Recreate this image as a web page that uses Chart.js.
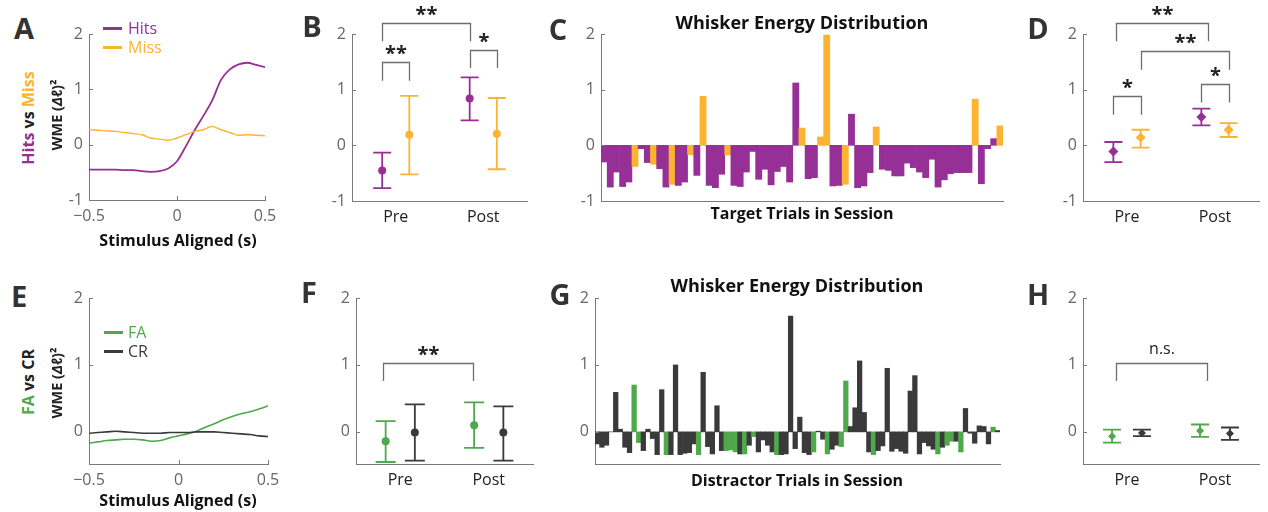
<!DOCTYPE html>
<html>
<head>
<meta charset="utf-8">
<script src="https://cdn.jsdelivr.net/npm/chart.js@4.4.1/dist/chart.umd.min.js"></script>
<style>
  body { margin: 0; background: #fff; width: 1268px; height: 512px; position: relative; overflow: hidden; font-family: "Open Sans", Lato, sans-serif; }
  canvas { position: absolute; }
  .txt { position: absolute; white-space: nowrap; line-height: 1; z-index: 2; color: #222; }
  .key { position: absolute; height: 0; z-index: 2; }
</style>
</head>
<body>
<script>
// ---- data ----
const timeAxis = [-0.5, -0.45, -0.4, -0.35, -0.3, -0.25, -0.2, -0.15, -0.1, -0.05, 0,
                  0.05, 0.1, 0.15, 0.2, 0.25, 0.3, 0.35, 0.4, 0.45, 0.5];
const hitsTrace = [-0.45, -0.45, -0.45, -0.45, -0.46, -0.46, -0.48, -0.49, -0.48, -0.43, -0.30,
                   -0.03, 0.26, 0.52, 0.80, 1.17, 1.36, 1.45, 1.48, 1.44, 1.40];
const missTrace = [0.27, 0.26, 0.25, 0.24, 0.22, 0.20, 0.18, 0.12, 0.10, 0.08, 0.12,
                   0.18, 0.24, 0.27, 0.33, 0.27, 0.22, 0.17, 0.18, 0.17, 0.16];
const faTrace = [-0.17, -0.15, -0.13, -0.12, -0.11, -0.11, -0.12, -0.14, -0.13, -0.09, -0.06,
                 -0.03, 0.01, 0.07, 0.12, 0.18, 0.23, 0.27, 0.30, 0.34, 0.39];
const crTrace = [-0.02, -0.01, 0.00, 0.01, 0.00, -0.01, -0.02, -0.02, -0.02, -0.01, -0.01,
                 -0.01, 0.00, 0.00, 0.00, -0.01, -0.02, -0.03, -0.04, -0.06, -0.07];

const phases = ["Pre", "Post"];
// B: hits / miss, mean with error range
const hitsWme = [-0.45, 0.84], hitsWmeLo = [-0.77, 0.45], hitsWmeHi = [-0.13, 1.22];
const missWme = [0.19, 0.21], missWmeLo = [-0.52, -0.43], missWmeHi = [0.89, 0.85];
// D
const hitsAvg = [-0.11, 0.51], hitsAvgLo = [-0.30, 0.36], hitsAvgHi = [0.06, 0.66];
const missAvg = [0.14, 0.28], missAvgLo = [-0.04, 0.15], missAvgHi = [0.28, 0.40];
// F: FA / CR
const faWme = [-0.14, 0.10], faWmeLo = [-0.45, -0.24], faWmeHi = [0.16, 0.44];
const crWme = [-0.01, -0.01], crWmeLo = [-0.43, -0.43], crWmeHi = [0.41, 0.38];
// H
const faAvg = [-0.065, 0.015], faAvgLo = [-0.16, -0.075], faAvgHi = [0.035, 0.11];
const crAvg = [-0.015, -0.025], crAvgLo = [-0.065, -0.12], crAvgHi = [0.035, 0.065];

// per-trial whisker energy, target trials (1 = hit, 0 = miss)
const targetWme = [
  -0.30, -0.75, -0.48, -0.74, -0.66, -0.38, -0.06, -0.31, -0.34, -0.42,
  -0.75, -0.70, -0.72, -0.66, -0.17, -0.54, 0.88, -0.72, -0.76, -0.52,
  -0.17, -0.72, -0.74, -0.48, -0.11, -0.61, -0.43, -0.71, -0.47, -0.38,
  -0.66, 1.12, 0.31, -0.60, -0.58, 0.15, 1.98, -0.73, -0.72, -0.70,
  0.56, -0.76, -0.73, -0.49, 0.33, -0.43, -0.45, -0.55, -0.55, -0.32,
  -0.40, -0.48, -0.58, -0.25, -0.75, -0.62, -0.51, -0.49, -0.49, -0.49,
  0.83, -0.69, -0.06, 0.12, 0.35];
const targetIsHit = [
  1, 1, 1, 1, 1, 0, 1, 1, 0, 1,
  1, 0, 1, 1, 0, 1, 0, 1, 1, 1,
  0, 1, 1, 1, 1, 1, 1, 1, 1, 1,
  1, 1, 0, 1, 1, 0, 0, 1, 1, 0,
  1, 1, 1, 1, 0, 1, 1, 1, 1, 1,
  1, 1, 1, 1, 1, 1, 1, 1, 1, 1,
  0, 1, 1, 1, 0];

// distractor trials (1 = false alarm, 0 = correct rejection)
const distractorWme = [
  -0.18, -0.23, -0.20, 0.00, 0.59, 0.04, -0.23, -0.31, 0.70, -0.16,
  -0.28, 0.04, -0.10, -0.34, 0.63, -0.34, -0.34, 1.00, -0.34, -0.32,
  -0.31, -0.18, -0.34, 0.89, -0.22, -0.33, 0.39, -0.28, -0.28, -0.27,
  -0.30, -0.33, -0.33, -0.20, -0.07, -0.30, -0.12, -0.20, -0.30, -0.34,
  -0.34, -0.33, 1.73, -0.25, 0.22, -0.31, -0.34, -0.30, 0.01, -0.11,
  -0.33, -0.26, -0.20, -0.22, 0.76, 0.08, 0.36, 1.06, 0.29, -0.30,
  -0.34, -0.28, -0.21, 0.95, -0.29, -0.25, -0.29, -0.32, 0.61, 0.84,
  -0.33, -0.16, -0.21, -0.26, -0.33, -0.23, -0.20, -0.14, -0.14, -0.30,
  0.35, -0.02, -0.17, 0.09, 0.08, -0.18, 0.07, 0.02];
const distractorIsFA = [
  0, 0, 0, 0, 0, 0, 0, 0, 1, 1,
  0, 0, 0, 0, 0, 1, 0, 0, 0, 0,
  0, 0, 1, 0, 0, 0, 0, 0, 1, 1,
  1, 0, 1, 0, 1, 0, 0, 0, 0, 1,
  0, 0, 0, 0, 0, 0, 0, 1, 0, 0,
  1, 0, 0, 1, 1, 0, 0, 0, 0, 0,
  1, 0, 0, 0, 0, 0, 0, 0, 0, 0,
  0, 0, 0, 0, 1, 0, 1, 1, 0, 1,
  0, 0, 0, 0, 0, 0, 1, 0];

// ---- styling ----
const PURPLE = '#962F96', ORANGE = '#FCB331', GREEN = '#4FA84C', DARK = '#3A3A3A';
const AXIS = '#7a7a7a', TICK = '#666';
const FONT = '"Open Sans", Lato, sans-serif';

Chart.defaults.font.family = FONT;
Chart.defaults.animation = false;
Chart.defaults.responsive = false;
Chart.defaults.plugins.legend.display = false;
Chart.defaults.plugins.tooltip.enabled = false;

// short tick marks pointing into the plot
const inwardTicks = {
  id: 'inwardTicks',
  afterDraw(chart, args, opts) {
    const { ctx, chartArea: a, scales } = chart;
    ctx.save();
    ctx.strokeStyle = AXIS;
    ctx.lineWidth = 1;
    ctx.beginPath();
    scales.y.ticks.forEach(t => {
      const y = Math.round(scales.y.getPixelForValue(t.value)) + 0.5;
      ctx.moveTo(a.left, y); ctx.lineTo(a.left + 4, y);
    });
    if (opts.x) {
      scales.x.ticks.forEach(t => {
        const x = Math.round(scales.x.getPixelForValue(t.value)) + 0.5;
        ctx.moveTo(x, a.bottom); ctx.lineTo(x, a.bottom - 4);
      });
    }
    ctx.stroke();
    ctx.restore();
  }
};

// vertical error bars with caps, drawn under the markers
const errorBars = {
  id: 'errorBars',
  beforeDatasetsDraw(chart) {
    const { ctx, scales: { x, y } } = chart;
    chart.data.datasets.forEach(ds => {
      if (!ds.lo) return;
      ctx.save();
      ctx.strokeStyle = ds.borderColor;
      ctx.lineWidth = 1.8;
      ds.data.forEach((p, i) => {
        const px = x.getPixelForValue(p.x);
        const y0 = y.getPixelForValue(ds.lo[i]), y1 = y.getPixelForValue(ds.hi[i]);
        ctx.beginPath();
        ctx.moveTo(px, y0); ctx.lineTo(px, y1);
        ctx.moveTo(px - ds.cap, y0); ctx.lineTo(px + ds.cap, y0);
        ctx.moveTo(px - ds.cap, y1); ctx.lineTo(px + ds.cap, y1);
        ctx.stroke();
      });
      ctx.restore();
    });
  }
};

// significance brackets: from/to on the x axis, at = bar level, foot = leg ends
function brackets(items) {
  return {
    id: 'brackets',
    afterDraw(chart) {
      const { ctx, scales: { x, y } } = chart;
      ctx.save();
      items.forEach(b => {
        const x1 = Math.round(x.getPixelForValue(b.from)) + 0.5;
        const x2 = Math.round(x.getPixelForValue(b.to)) + 0.5;
        const yl = Math.round(y.getPixelForValue(b.at)) + 0.5;
        const yf = y.getPixelForValue(b.foot);
        ctx.strokeStyle = '#6e6e6e';
        ctx.lineWidth = 1.3;
        ctx.beginPath();
        ctx.moveTo(x1, yf); ctx.lineTo(x1, yl); ctx.lineTo(x2, yl); ctx.lineTo(x2, yf);
        ctx.stroke();
        ctx.fillStyle = '#222';
        ctx.textAlign = 'center';
        ctx.textBaseline = 'middle';
        if (b.text === 'n.s.') {
          ctx.font = '16px ' + FONT;
          ctx.fillText(b.text, (x1 + x2) / 2, yl - 14);
        } else {
          ctx.font = 'bold 20px ' + FONT;
          ctx.fillText(b.text, (x1 + x2) / 2, yl - 8);
        }
      });
      ctx.restore();
    }
  };
}

function yScale(min) {
  return {
    min: min, max: 2,
    afterBuildTicks: s => { s.ticks = [-1, 0, 1, 2].filter(v => v >= min).map(v => ({ value: v })); },
    grid: { display: false, drawTicks: false },
    border: { color: AXIS, width: 1 },
    ticks: { color: TICK, padding: 6, font: { size: 16 } }
  };
}

function timeScale() {
  return {
    type: 'linear', min: -0.5, max: 0.5,
    afterBuildTicks: s => { s.ticks = [-0.5, 0, 0.5].map(v => ({ value: v })); },
    grid: { display: false, drawTicks: false },
    border: { color: AXIS, width: 1 },
    ticks: { color: TICK, padding: 7, maxRotation: 0, font: { size: 16 },
             callback: v => (v < 0 ? '\u2212' + Math.abs(v) : String(v)) }
  };
}

function phaseScale() {
  return {
    type: 'linear', min: 0.5, max: 2.5,
    afterBuildTicks: s => { s.ticks = [1, 2].map(v => ({ value: v })); },
    grid: { display: false, drawTicks: false },
    border: { color: AXIS, width: 1 },
    ticks: { color: '#222', padding: 7, maxRotation: 0, font: { size: 16 },
             callback: v => phases[v - 1] }
  };
}

function trialScale() {
  return {
    type: 'category', offset: true,
    grid: { display: false, drawTicks: false, offset: true },
    border: { color: AXIS, width: 1 },
    ticks: { display: false }
  };
}

function trace(values, color, width) {
  return {
    data: timeAxis.map((t, i) => ({ x: t, y: values[i] })),
    borderColor: color, borderWidth: width, pointRadius: 0,
    cubicInterpolationMode: 'monotone'
  };
}

function group(mean, lo, hi, color, shift, style, radius, cap) {
  return {
    type: 'scatter',
    data: mean.map((v, i) => ({ x: i + 1 + shift, y: v })),
    lo: lo, hi: hi, cap: cap,
    backgroundColor: color, borderColor: color, borderWidth: 0,
    pointStyle: style, pointRadius: radius
  };
}

// one canvas per panel; area is the plot rectangle on the page
function panel(area, config, plugins) {
  const pad = { left: 50, top: 34, right: 20, bottom: 34 };
  const c = document.createElement('canvas');
  c.width = area.r - area.l + pad.left + pad.right;
  c.height = area.b - area.t + pad.top + pad.bottom;
  c.style.left = (area.l - pad.left) + 'px';
  c.style.top = (area.t - pad.top) + 'px';
  document.body.appendChild(c);
  config.options.layout = { padding: { top: pad.top, right: pad.right, left: 0, bottom: 0 } };
  config.options.scales.x.afterFit = s => { s.height = pad.bottom; s.paddingLeft = 0; s.paddingRight = 0; };
  config.options.scales.y.afterFit = s => { s.width = pad.left; s.paddingTop = 0; s.paddingBottom = 0; };
  config.plugins = [inwardTicks].concat(plugins || []);
  return new Chart(c, config);
}

// A: hits vs miss around stimulus
panel({ l: 89, t: 34, r: 265, b: 200 }, {
  type: 'line',
  data: { datasets: [trace(missTrace, ORANGE, 1.4), trace(hitsTrace, PURPLE, 1.8)] },
  options: { scales: { x: timeScale(), y: yScale(-1) }, plugins: { inwardTicks: { x: true } } }
});

// B
panel({ l: 352, t: 34, r: 527, b: 201 }, {
  type: 'scatter',
  data: { datasets: [
    group(hitsWme, hitsWmeLo, hitsWmeHi, PURPLE, -0.155, 'circle', 4, 9),
    group(missWme, missWmeLo, missWmeHi, ORANGE, 0.155, 'circle', 4, 9)
  ] },
  options: { scales: { x: phaseScale(), y: yScale(-1) } }
}, [errorBars, brackets([
  { from: 0.845, to: 1.155, at: 1.49, foot: 1.16, text: '**' },
  { from: 1.845, to: 2.155, at: 1.72, foot: 1.39, text: '*' },
  { from: 0.845, to: 1.845, at: 2.20, foot: 1.87, text: '**' }
])]);

// C: target trials
panel({ l: 601, t: 34, r: 1003, b: 201 }, {
  type: 'bar',
  data: {
    labels: targetWme.map((v, i) => i + 1),
    datasets: [{
      data: targetWme,
      backgroundColor: targetIsHit.map(h => (h ? PURPLE : ORANGE)),
      barPercentage: 1, categoryPercentage: 1, borderWidth: 0
    }]
  },
  options: { scales: { x: trialScale(), y: yScale(-1) } }
});

// D
panel({ l: 1083, t: 34, r: 1259, b: 201 }, {
  type: 'scatter',
  data: { datasets: [
    group(hitsAvg, hitsAvgLo, hitsAvgHi, PURPLE, -0.155, 'rectRot', 5, 9),
    group(missAvg, missAvgLo, missAvgHi, ORANGE, 0.155, 'rectRot', 5, 9)
  ] },
  options: { scales: { x: phaseScale(), y: yScale(-1) } }
}, [errorBars, brackets([
  { from: 0.845, to: 1.155, at: 0.89, foot: 0.55, text: '*' },
  { from: 1.845, to: 2.155, at: 1.10, foot: 0.77, text: '*' },
  { from: 1.155, to: 2.155, at: 1.69, foot: 1.36, text: '**' },
  { from: 0.87, to: 1.92, at: 2.20, foot: 1.87, text: '**' }
])]);

// E: FA vs CR around stimulus
panel({ l: 89, t: 298, r: 268, b: 464 }, {
  type: 'line',
  data: { datasets: [trace(crTrace, DARK, 1.6), trace(faTrace, GREEN, 1.6)] },
  options: { scales: { x: timeScale(), y: yScale(-0.48) }, plugins: { inwardTicks: { x: true } } }
});

// F
panel({ l: 356, t: 298, r: 533, b: 464 }, {
  type: 'scatter',
  data: { datasets: [
    group(faWme, faWmeLo, faWmeHi, GREEN, -0.165, 'circle', 4, 10),
    group(crWme, crWmeLo, crWmeHi, DARK, 0.165, 'circle', 4, 10)
  ] },
  options: { scales: { x: phaseScale(), y: yScale(-0.48) } }
}, [errorBars, brackets([
  { from: 0.80, to: 1.82, at: 1.03, foot: 0.76, text: '**' }
])]);

// G: distractor trials
panel({ l: 595, t: 298, r: 1000, b: 464 }, {
  type: 'bar',
  data: {
    labels: distractorWme.map((v, i) => i + 1),
    datasets: [{
      data: distractorWme,
      backgroundColor: distractorIsFA.map(f => (f ? GREEN : DARK)),
      barPercentage: 1, categoryPercentage: 1, borderWidth: 0
    }]
  },
  options: { scales: { x: trialScale(), y: yScale(-0.48) } }
});

// H
panel({ l: 1083, t: 298, r: 1259, b: 464 }, {
  type: 'scatter',
  data: { datasets: [
    group(faAvg, faAvgLo, faAvgHi, GREEN, -0.17, 'rectRot', 4, 9),
    group(crAvg, crAvgLo, crAvgHi, DARK, 0.17, 'rectRot', 4, 9)
  ] },
  options: { scales: { x: phaseScale(), y: yScale(-0.48) } }
}, [errorBars, brackets([
  { from: 0.88, to: 1.91, at: 1.03, foot: 0.76, text: 'n.s.' }
])]);

// ---- text ----
function text(html, x, y, css, rotate) {
  const d = document.createElement('div');
  d.className = 'txt';
  d.innerHTML = html;
  d.style.cssText = 'left:' + x + 'px;top:' + y + 'px;' + (css || '');
  d.style.transform = 'translate(-50%,-50%)' + (rotate ? ' rotate(-90deg)' : '');
  document.body.appendChild(d);
}
function key(x, y, color) {
  const k = document.createElement('div');
  k.className = 'key';
  k.style.cssText = 'left:' + x + 'px;top:' + (y - 1.5) + 'px;width:19px;border-top:3px solid ' + color;
  document.body.appendChild(k);
}

const letterCss = 'font-size:29px;font-weight:700;color:#333;';
[['A', 24, 27], ['B', 312, 25], ['C', 558, 28], ['D', 1038, 27],
 ['E', 19, 295], ['F', 309, 291], ['G', 560, 293], ['H', 1038, 293]]
  .forEach(([s, x, y]) => text(s, x, y, letterCss));

const titleCss = 'font-size:18px;font-weight:700;color:#111;';
const axisCss = 'font-size:16px;font-weight:700;color:#111;';
text('Whisker Energy Distribution', 802, 22, titleCss);
text('Whisker Energy Distribution', 797, 285, titleCss);
text('Target Trials in Session', 802, 213, axisCss);
text('Distractor Trials in Session', 797, 480, axisCss);
text('Stimulus Aligned (s)', 178, 240, axisCss);
text('Stimulus Aligned (s)', 178, 500, axisCss);

text('<span style="color:' + PURPLE + '">Hits</span> vs <span style="color:' + ORANGE + '">Miss</span>',
     28, 118, 'font-size:16px;font-weight:700;', true);
text('<span style="color:' + GREEN + '">FA</span> vs CR', 28, 382, 'font-size:16px;font-weight:700;', true);
text('WME (<i>\u0394\u2113</i>)\u00b2', 57, 115, 'font-size:14.5px;font-weight:700;', true);
text('WME (<i>\u0394\u2113</i>)\u00b2', 57, 383, 'font-size:14.5px;font-weight:700;', true);

key(103, 28, PURPLE);
key(103, 47, ORANGE);
key(104, 332, GREEN);
key(104, 351, DARK);
const keyCss = 'font-size:16px;transform:translateY(-50%);';
[['Hits', 28, PURPLE], ['Miss', 47, ORANGE], ['FA', 332, GREEN], ['CR', 351, DARK]].forEach(([s, y, c]) => {
  const d = document.createElement('div');
  d.className = 'txt';
  d.textContent = s;
  d.style.cssText = 'left:128px;top:' + y + 'px;color:' + c + ';' + keyCss;
  document.body.appendChild(d);
});
</script>
</body>
</html>
